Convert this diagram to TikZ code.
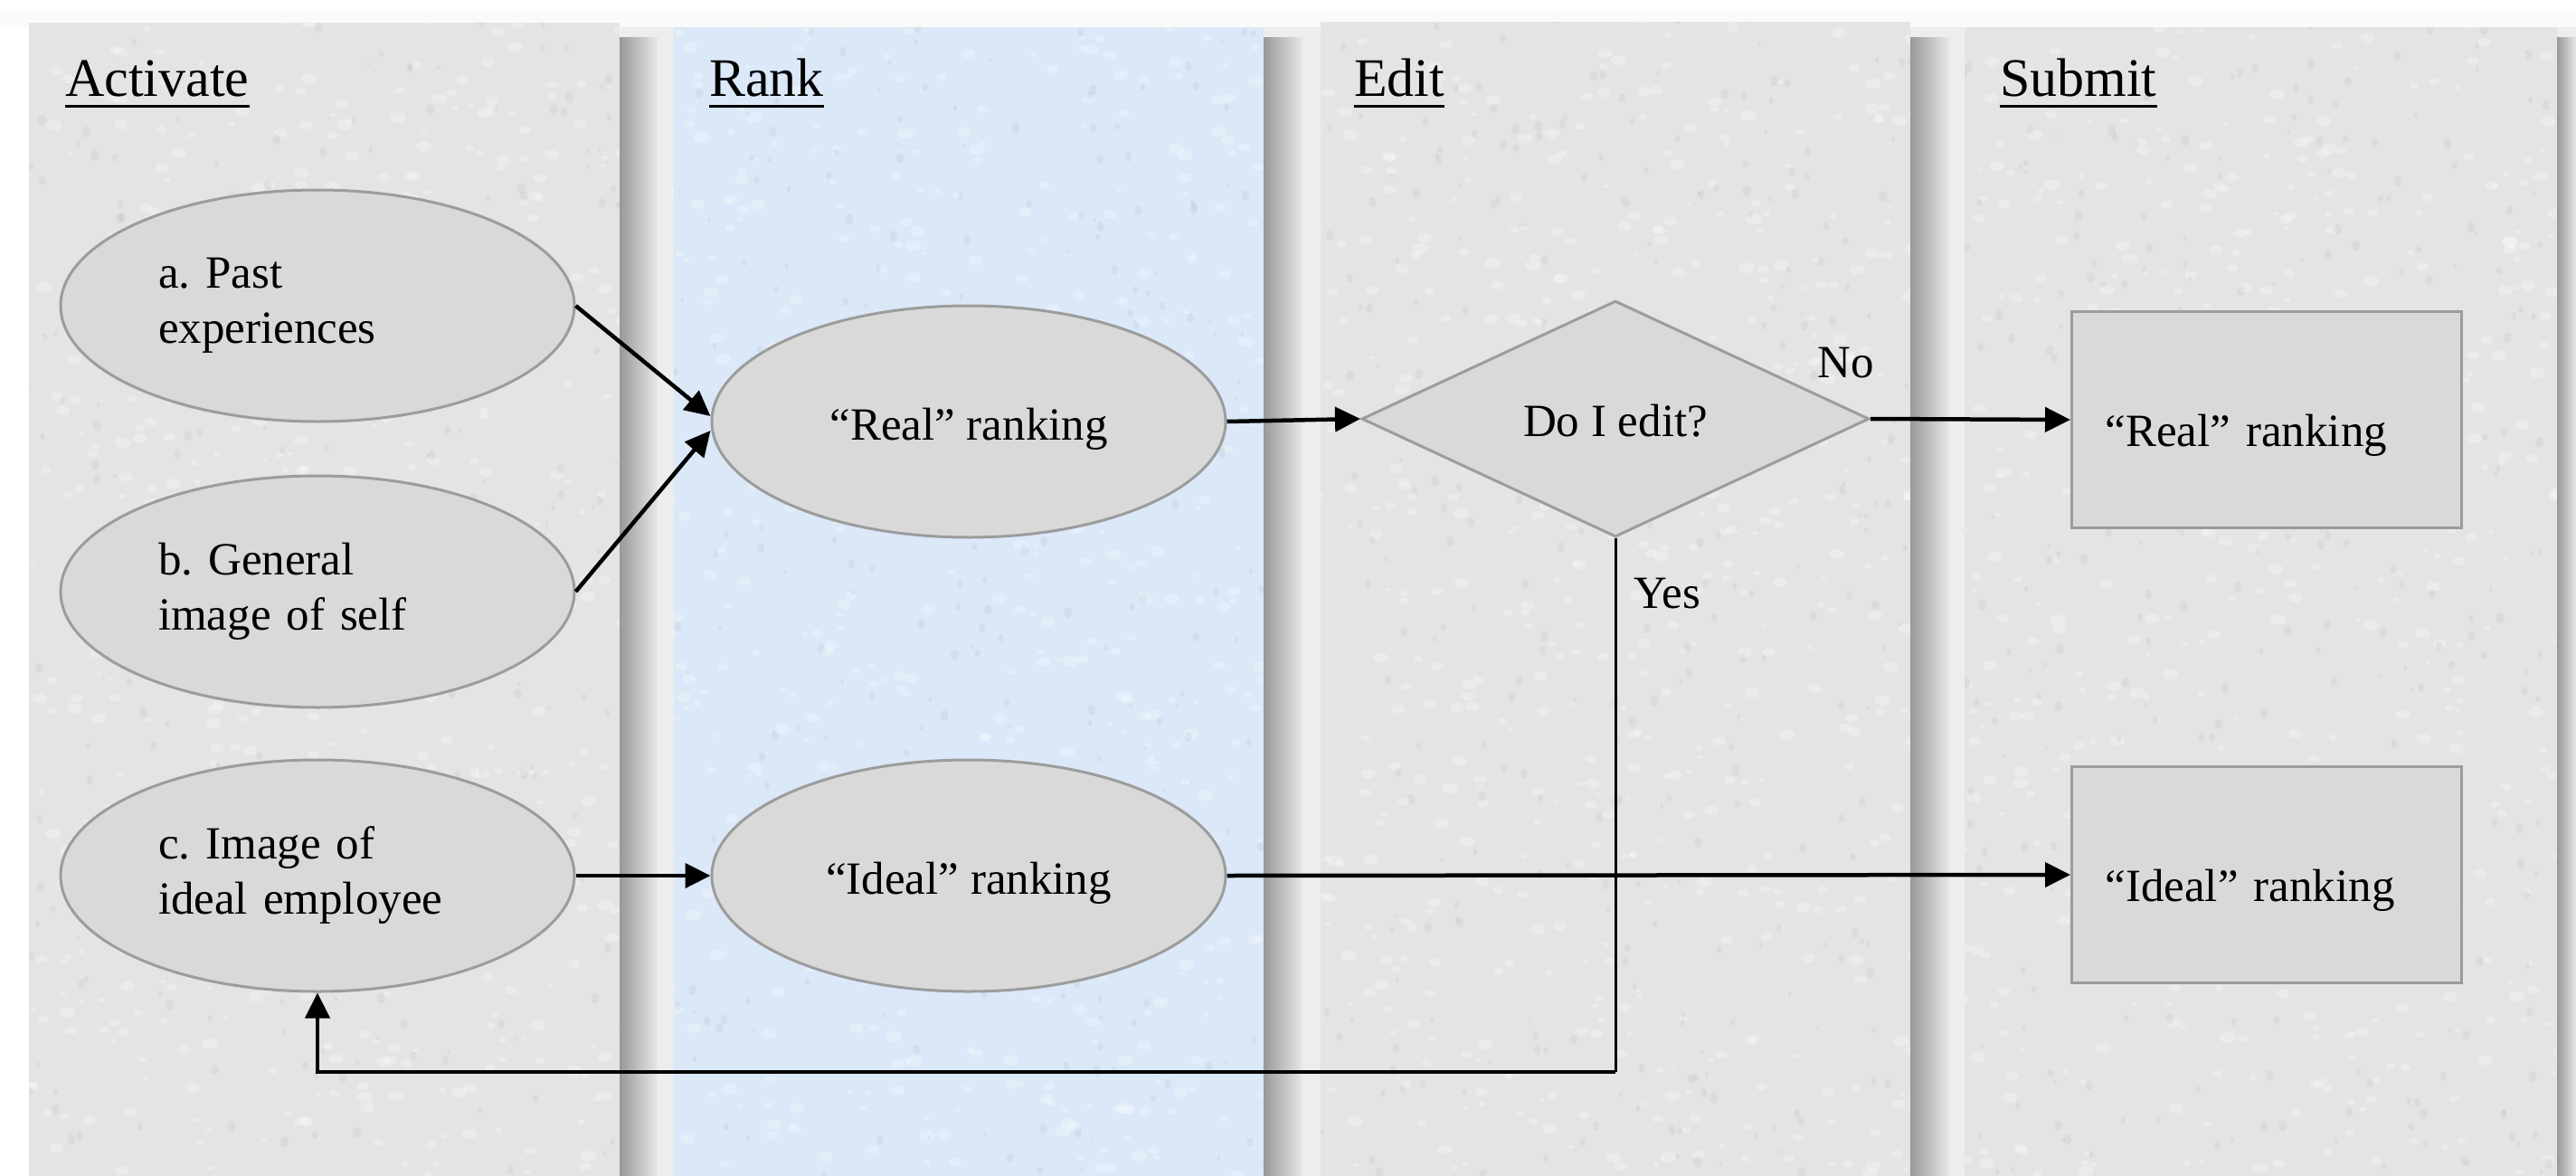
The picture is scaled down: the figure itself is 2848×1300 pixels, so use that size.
\documentclass[tikz,border=0pt]{standalone}
\usepackage{fontspec}
\setmainfont{Liberation Serif}
\frenchspacing
\usetikzlibrary{shapes.geometric,arrows.meta,calc}
\definecolor{lanegray}{HTML}{E4E4E4}
\definecolor{laneblue}{HTML}{DAE8F8}
\definecolor{nodefill}{HTML}{D9D9D9}
\definecolor{nodeline}{HTML}{9C9C9C}
\tikzset{
  lane/.style={fill=#1, draw=none},
  lshadow/.style={left color=black!40, right color=black!9, draw=none},
  oval/.style={ellipse, fill=nodefill, draw=nodeline, line width=3pt,
     minimum width=568pt, minimum height=256pt, inner sep=0pt,
     font=\fontsize{51}{61}\selectfont},
  onetxt/.style={text height=51pt, text depth=11pt},
  ovaltxt/.style={oval, text width=352pt, align=left},
  decide/.style={diamond, fill=nodefill, draw=nodeline, line width=3pt,
     minimum width=561pt, minimum height=261pt, inner sep=0pt, aspect=2.15,
     text height=49pt, text depth=11pt,
     font=\fontsize{51}{61}\selectfont},
  outbox/.style={rectangle, fill=nodefill, draw=nodeline, line width=3pt,
     minimum width=431pt, minimum height=239pt, inner xsep=37pt, inner ysep=0pt,
     text width=357pt, align=left, text height=70pt, text depth=12pt,
     font=\fontsize{51}{61}\selectfont},
  header/.style={anchor=base west, inner sep=0pt, font=\fontsize{60}{72}\selectfont},
  lbl/.style={anchor=base west, inner sep=0pt, font=\fontsize{51}{61}\selectfont},
  arr/.style={line width=4.5pt, -{Triangle[length=28pt,width=27pt]}},
  plain/.style={line width=3pt},
  uline/.style={line width=3pt}
}
\begin{document}
\begin{tikzpicture}[x=1pt,y=-1pt]
\useasboundingbox (0,0) rectangle (2848,1300);
\fill[white] (0,0) rectangle (2848,1300);
\fill[black!2] (0,10) rectangle (2848,30);
% gaps
\fill[black!7] (685,30) rectangle (745,1300);
\fill[black!7] (1397,30) rectangle (1460,1300);
\fill[black!7] (2112,30) rectangle (2172,1300);
\fill[black!7] (2827,30) rectangle (2848,1300);
% lanes
\fill[lane=lanegray] (32,25) rectangle (685,1300);
\fill[lane=laneblue] (745,30) rectangle (1397,1300);
\fill[lane=lanegray] (1460,24) rectangle (2112,1300);
\fill[lane=lanegray] (2172,30) rectangle (2827,1300);
% texture
\begin{scope}
\clip (32,25) rectangle (685,1300) (745,30) rectangle (1397,1300)
      (1460,24) rectangle (2112,1300) (2172,30) rectangle (2827,1300);
\pgfmathsetseed{4242}
\foreach \i in {1,...,2200}{
  \pgfmathsetmacro{\px}{rnd*2848}
  \pgfmathsetmacro{\py}{rnd*1300}
  \pgfmathsetmacro{\pr}{2+rnd*4}
  \pgfmathsetmacro{\pq}{1.5*\pr}
  \fill[white, opacity=0.28] (\px,\py) ellipse [x radius=\pq, y radius=\pr];
}
\foreach \i in {1,...,1200}{
  \pgfmathsetmacro{\px}{rnd*2848}
  \pgfmathsetmacro{\py}{rnd*1300}
  \pgfmathsetmacro{\pr}{1.5+rnd*3}
  \pgfmathsetmacro{\pq}{1.4*\pr}
  \fill[black, opacity=0.04] (\px,\py) ellipse [x radius=\pr, y radius=\pq];
}
\end{scope}
% shadows
\shade[lshadow] (685,42) rectangle (727,1300);
\shade[lshadow] (1397,42) rectangle (1440,1300);
\shade[lshadow] (2112,42) rectangle (2155,1300);
\shade[lshadow] (2827,42) rectangle (2848,1300);
% headers
\node[header] (h1) at (72,107) {Activate};
\node[header] (h2) at (784,107) {Rank};
\node[header] (h3) at (1497,107) {Edit};
\node[header] (h4) at (2211,107) {Submit};
\foreach \h in {h1,h2,h3,h4}
  \draw[uline] ([yshift=-11pt]\h.base west) -- ([yshift=-11pt]\h.base east);
% nodes
\node[ovaltxt] (a) at (351,338) {a. Past\\experiences};
\node[ovaltxt] (b) at (351,654) {b. General\\image of self};
\node[ovaltxt] (c) at (351,968) {c. Image of\\ideal employee};
\node[oval, onetxt] (real) at (1071,466) {“Real” ranking};
\node[oval, onetxt] (ideal) at (1071,968) {“Ideal” ranking};
\node[decide] (dia) at (1786,463) {Do I edit?};
\node[outbox] (boxr) at (2506,464) {“Real” ranking};
\node[outbox] (boxi) at (2506,967) {“Ideal” ranking};
\node[lbl] (no) at (2009,417) {No};
\node[lbl] (yes) at (1806,672) {Yes};
\coordinate (fb) at (1786,1185);
% connectors
\draw[arr] (a.east) -- ([yshift=6pt]real.west);
\draw[arr] (b.east) -- ([yshift=-10pt]real.west);
\draw[arr] (real.east) -- (dia.west);
\draw[arr] (dia.east) -- (boxr.west);
\draw[arr] (c.east) -- (ideal.west);
\draw[arr] (ideal.east) -- (boxi.west);
\draw[plain] (dia.south) -- (fb);
\draw[arr] (fb) -| (c.south);
\end{tikzpicture}
\end{document}
